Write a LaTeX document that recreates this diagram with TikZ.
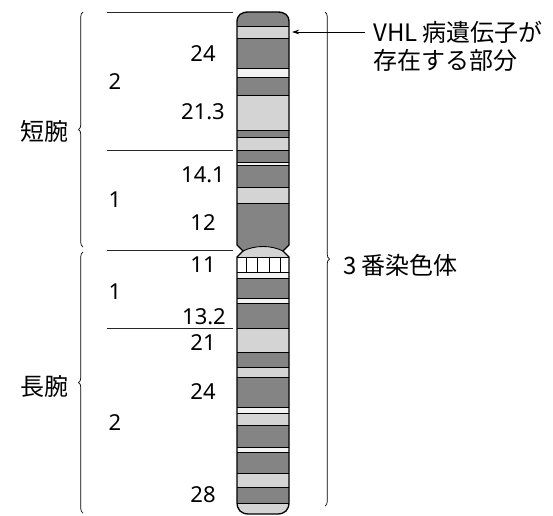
\documentclass[tikz,border=0pt]{standalone}
\usepackage{fontspec}
\setmainfont{Noto Sans}
\newfontfamily\jp{Noto Sans CJK JP}
\usetikzlibrary{decorations.pathreplacing,arrows.meta}

\definecolor{banddark}{RGB}{132,132,132}
\definecolor{bandlight}{RGB}{212,212,212}
\definecolor{bandpale}{RGB}{242,242,242}

\tikzset{
  num/.style={font=\fontsize{22}{26}\selectfont, inner sep=0pt},
  jlabel/.style={font=\jp\fontsize{24}{28}\selectfont, inner sep=0pt},
  armrule/.style={line width=0.8pt, black!85},
  bracket/.style={decorate, decoration={brace, amplitude=4.5pt}, line width=0.7pt},
  pointer/.style={-{Stealth[length=7pt,width=4.5pt]}, line width=0.7pt},
  outline/.style={line width=1.3pt},
  bandsep/.style={line width=0.9pt},
}

% outline of chromosome 3 with the centromere pinch
\def\chrpath{(237,30) -- (237,22) .. controls (237,15) and (241,12) .. (249,12)
  -- (277,12) .. controls (285,12) and (289,15) .. (289,22)
  -- (289,245) -- (283,251) -- (289,257)
  -- (289,502) .. controls (289,510) and (285,514) .. (277,514)
  -- (249,514) .. controls (241,514) and (237,510) .. (237,502)
  -- (237,257) -- (243,251) -- (237,245) -- cycle}

\begin{document}
\begin{tikzpicture}[x=1pt,y=-1pt]
\useasboundingbox (0,0) rectangle (553,515);

% ---- bands ----
\begin{scope}
  \clip \chrpath;
  \foreach \t/\b/\c in {
      12/26/banddark, 26/38/bandlight, 38/68/banddark, 68/77/bandpale,
      77/95/banddark, 95/130/bandlight, 130/137/banddark, 137/150/bandlight,
      150/162/banddark, 162/165/bandpale, 165/187/banddark, 187/203/bandlight,
      203/257/banddark, 257/272/white, 272/278/bandpale, 278/298/banddark,
      298/303/bandpale, 303/328/banddark, 328/352/bandlight, 352/367/banddark,
      367/377/bandlight, 377/407/banddark, 407/413/bandpale, 413/425/bandlight,
      425/447/banddark, 447/452/bandpale, 452/473/banddark, 473/487/bandlight,
      487/503/banddark, 503/516/bandlight}
    \fill[\c] (230,\t) rectangle (296,\b);
  % centromere
  \fill[bandlight] (237,257) -- (243,251) .. controls (255,245) and (271,245) .. (283,251) -- (289,257) -- cycle;
  \draw[bandsep] (243,251) .. controls (255,245) and (271,245) .. (283,251);
  % hatched band 11
  \foreach \x in {246,257,269,280}
    \draw[line width=0.8pt] (\x,257) -- (\x,272);
  \foreach \y in {26,38,68,77,95,130,137,150,162,165,187,203,257,272,278,298,
                  303,328,352,367,377,407,413,425,447,452,473,487,503}
    \draw[bandsep] (230,\y) -- (296,\y);
\end{scope}
\draw[outline] \chrpath;

% ---- region rules ----
\draw[armrule] (107,12) -- (233,12);
\draw[armrule] (107,150) -- (233,150);
\draw[armrule] (107,250) -- (233,250);
\draw[armrule] (107,328) -- (233,328);

% ---- band numbers ----
\node[num] (b24)  at (203,54)  {24};
\node[num] (b213) at (203,112) {21.3};
\node[num] (b141) at (203,175) {14.1};
\node[num] (b12)  at (203,223) {12};
\node[num] (b11)  at (203,265) {11};
\node[num] (b132) at (204,317) {13.2};
\node[num] (b21)  at (203,343) {21};
\node[num] (q24)  at (203,392) {24};
\node[num] (b28)  at (203,495) {28};

% ---- region numbers ----
\node[num] (p2) at (115,82)  {2};
\node[num] (p1) at (115,200) {1};
\node[num] (q1) at (115,292) {1};
\node[num] (q2) at (115,423) {2};

% ---- arm braces ----
\coordinate (pTop) at (83,12);
\coordinate (pBot) at (83,247);
\coordinate (qTop) at (83,252);
\coordinate (qBot) at (83,513);
\draw[bracket] (pBot) -- (pTop);
\draw[bracket] (qBot) -- (qTop);
\node[jlabel] (parm) at (44,131) {短腕};
\node[jlabel] (qarm) at (44,387) {長腕};

% ---- whole chromosome brace ----
\coordinate (cTop) at (325,12);
\coordinate (cBot) at (325,506);
\draw[bracket] (cTop) -- (cBot);
\node[jlabel, anchor=west] (chr) at (343,265) {3 番染色体};

% ---- VHL gene pointer ----
\node[jlabel, anchor=west] (vhl1) at (373,32) {VHL 病遺伝子が};
\node[jlabel, anchor=west] (vhl2) at (373,60) {存在する部分};
\coordinate (vhltip) at (292,32);
\draw[pointer] ([xshift=-8pt]vhl1.west) -- (vhltip);
\end{tikzpicture}
\end{document}
